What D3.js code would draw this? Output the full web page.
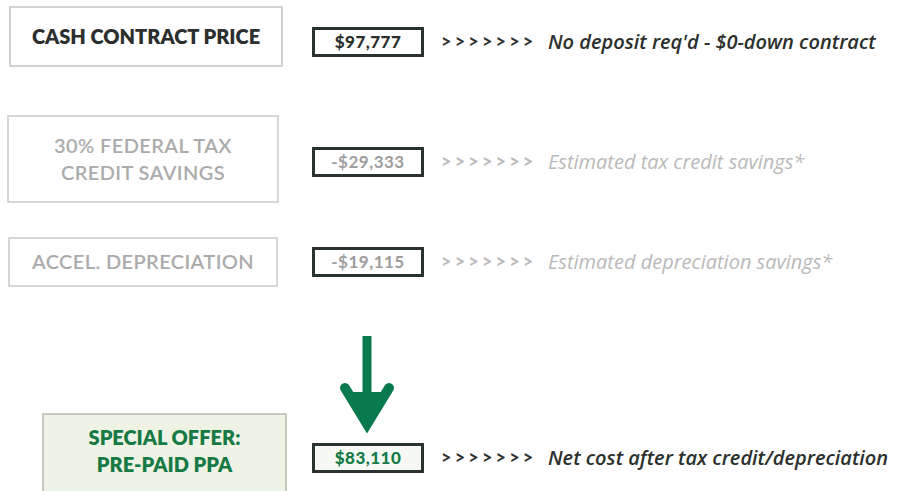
<!DOCTYPE html>
<html>
<head>
<meta charset="utf-8">
<script src="https://cdnjs.cloudflare.com/ajax/libs/d3/7.8.5/d3.min.js"></script>
<style>
  html, body { margin: 0; padding: 0; background: #fff; }
  svg { display: block; }
</style>
</head>
<body>
<div id="chart"></div>
<script>
// DATA
var labels = [["CASH CONTRACT PRICE"], ["30% FEDERAL TAX", "CREDIT SAVINGS"], ["ACCEL. DEPRECIATION"], ["SPECIAL OFFER:", "PRE-PAID PPA"]];
var values = [97777, -29333, -19115, 83110];
var notes = ["No deposit req'd - $0-down contract", "Estimated tax credit savings*", "Estimated depreciation savings*", "Net cost after tax credit/depreciation"];
var kinds = ["base", "faded", "faded", "offer"];

// LAYOUT (row geometry, not data)
var W = 898, H = 491;
var rowBox = [[10, 7, 272, 59], [8, 116, 270, 86], [9, 238, 268, 48], [43, 414, 243, 80]];
var rowMid = [42, 162, 262, 458];

var STYLE = {
  base:  {label: "#2b2f2d", value: "#2b2f2d", note: "#2b2f2d", box: "#c9c9c9", fill: "#fff"},
  faded: {label: "#ababab", value: "#9d9d9d", note: "#b9b9b9", box: "#cdcdcd", fill: "#fff"},
  offer: {label: "#177a45", value: "#157a48", note: "#2b2f2d", box: "#b9bdb3", fill: "#eef3e6"}
};

var fmt = d3.format(",");
function money(v){
  return (v < 0 ? "-" : "") + "$" + fmt(Math.abs(v));
}

var rows = values.map(function(v, i){
  return {label: labels[i], value: v, note: notes[i], kind: kinds[i], box: rowBox[i], mid: rowMid[i]};
});

var svg = d3.select("#chart").append("svg")
  .attr("width", W)
  .attr("height", H);

var g = svg.selectAll("g.row")
  .data(rows)
  .enter()
  .append("g")
  .attr("class", "row");

//LABEL BOXES
g.append("rect")
  .attr("x", function(d){ return d.box[0]; })
  .attr("y", function(d){ return d.box[1]; })
  .attr("width", function(d){ return d.box[2]; })
  .attr("height", function(d){ return d.box[3]; })
  .attr("fill", function(d){ return STYLE[d.kind].fill; })
  .attr("stroke", function(d){ return STYLE[d.kind].box; })
  .attr("stroke-width", 1.6);

g.each(function(d){
  var self = d3.select(this);
  var cx = d.box[0] + d.box[2] / 2;
  var lineH = 27;
  var cy = d.kind == "offer" ? 451 : d.box[1] + d.box[3] / 2;
  var y0 = cy - (d.label.length - 1) * lineH / 2;
  d.label.forEach(function(t, k){
    self.append("text")
      .attr("x", cx)
      .attr("y", y0 + k * lineH)
      .attr("dy", "0.36em")
      .attr("text-anchor", "middle")
      .attr("font-family", "Lato, 'Open Sans', sans-serif")
      .attr("font-weight", d.kind == "faded" ? 600 : 800)
      .attr("font-size", 20)
      .attr("letter-spacing", d.kind == "faded" ? 0.4 : 0)
      .attr("fill", STYLE[d.kind].label)
      .text(t);
  });
});

//VALUE BOXES
g.append("rect")
  .attr("x", 313.5)
  .attr("y", function(d){ return d.mid - 13.5; })
  .attr("width", 109)
  .attr("height", 27)
  .attr("fill", function(d){ return d.kind == "offer" ? "#f6f9f3" : "#fff"; })
  .attr("stroke", "#2b3330")
  .attr("stroke-width", 3);

g.append("text")
  .attr("x", 368)
  .attr("y", function(d){ return d.mid; })
  .attr("dy", "0.36em")
  .attr("text-anchor", "middle")
  .attr("font-family", "Lato, 'Open Sans', sans-serif")
  .attr("font-weight", function(d){ return d.kind == "faded" ? 700 : 900; })
  .attr("font-size", 17)
  .attr("letter-spacing", 0.5)
  .attr("fill", function(d){ return STYLE[d.kind].value; })
  .text(function(d){ return money(d.value); });

//NOTES
g.append("text")
  .attr("x", 441)
  .attr("y", function(d){ return d.mid; })
  .attr("dy", "0.36em")
  .attr("font-family", "Lato, 'Open Sans', sans-serif")
  .attr("font-weight", 700)
  .attr("font-size", 18)
  .attr("letter-spacing", 3.2)
  .attr("fill", function(d){ return STYLE[d.kind].note; })
  .text(">>>>>>>");

g.append("text")
  .attr("x", 548)
  .attr("y", function(d){ return d.mid; })
  .attr("dy", "0.36em")
  .attr("font-family", "'Open Sans', sans-serif")
  .attr("font-style", "italic")
  .attr("font-weight", function(d){ return d.kind == "faded" ? 400 : 600; })
  .attr("font-size", 20)
  .attr("fill", function(d){ return STYLE[d.kind].note; })
  .text(function(d){ return d.note; });

//DOWN ARROW TO THE NET COST
var arrow = svg.append("g")
  .attr("fill", "none")
  .attr("stroke", "#087a4e");
arrow.append("line")
  .attr("x1", 367).attr("y1", 336)
  .attr("x2", 367).attr("y2", 420)
  .attr("stroke-width", 9);
arrow.append("path")
  .attr("d", "M345,388 L367,424 L389,388")
  .attr("stroke-width", 10)
  .attr("stroke-linecap", "round")
  .attr("stroke-linejoin", "miter");
arrow.append("path")
  .attr("d", "M350,392 L367,428 L384,392 Z")
  .attr("fill", "#087a4e")
  .attr("stroke", "none");
</script>
</body>
</html>
